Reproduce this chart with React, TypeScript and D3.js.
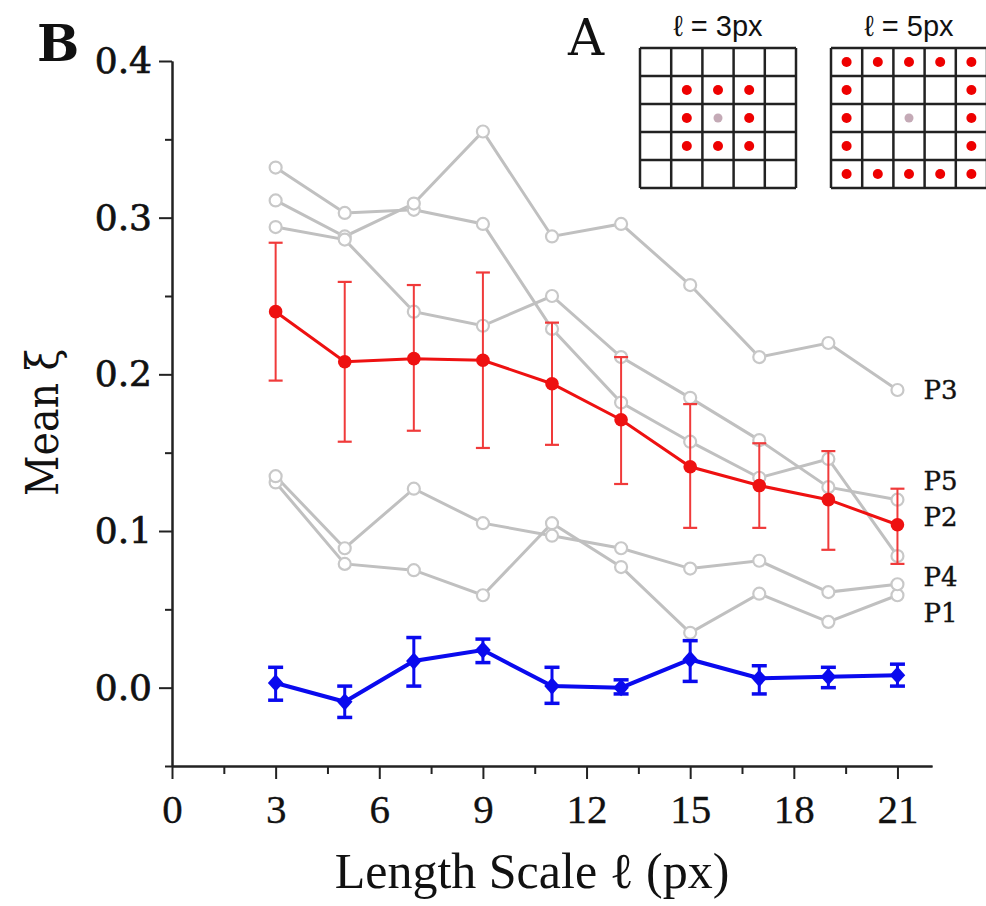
import React, { useRef, useEffect } from 'react'
import * as d3 from 'd3'

// length scale values on the x axis
const lengths = [3, 5, 7, 9, 11, 13, 15, 17, 19, 21]

// individual subjects (grey)
const p1 = [0.131, 0.079, 0.075, 0.059, 0.105, 0.077, 0.035, 0.060, 0.042, 0.059]
const p2 = [0.332, 0.303, 0.305, 0.296, 0.229, 0.182, 0.157, 0.134, 0.146, 0.084]
const p3 = [0.311, 0.288, 0.309, 0.355, 0.288, 0.296, 0.257, 0.211, 0.220, 0.190]
const p4 = [0.135, 0.089, 0.127, 0.105, 0.097, 0.089, 0.076, 0.081, 0.061, 0.066]
const p5 = [0.294, 0.286, 0.240, 0.231, 0.250, 0.211, 0.185, 0.158, 0.128, 0.120]

// mean of subjects (red) with error bars
const redMean = [0.240, 0.208, 0.210, 0.209, 0.194, 0.171, 0.141, 0.129, 0.120, 0.104]
const redHi = [0.284, 0.259, 0.257, 0.265, 0.233, 0.211, 0.181, 0.156, 0.151, 0.127]
const redLo = [0.196, 0.157, 0.164, 0.153, 0.155, 0.130, 0.102, 0.102, 0.088, 0.079]

// control (blue)
const blueMean = [0.003, -0.009, 0.017, 0.024, 0.001, 0.000, 0.018, 0.006, 0.007, 0.008]
const blueHi = [0.013, 0.001, 0.032, 0.031, 0.013, 0.005, 0.030, 0.014, 0.013, 0.015]
const blueLo = [-0.008, -0.019, 0.001, 0.016, -0.010, -0.004, 0.004, -0.004, 0.000, 0.001]

// labels at the right end of the grey lines
const subjectLabels = ['P3', 'P5', 'P2', 'P4', 'P1']
const subjectLabelValues = [0.190, 0.132, 0.109, 0.071, 0.048]

const yTicks = [0, 0.1, 0.2, 0.3, 0.4]
const yMinorTicks = [-0.05, 0.05, 0.15, 0.25, 0.35]
const xTicks = [0, 3, 6, 9, 12, 15, 18, 21]
const xMinorTicks = [1.5, 4.5, 7.5, 10.5, 13.5, 16.5, 19.5]

// inset A: neighbourhood cells [col, row] in a 5x5 grid
const ring3 = [[1, 1], [2, 1], [3, 1], [1, 2], [3, 2], [1, 3], [2, 3], [3, 3]]
const ring5 = [
  [0, 0], [1, 0], [2, 0], [3, 0], [4, 0],
  [0, 1], [4, 1], [0, 2], [4, 2], [0, 3], [4, 3],
  [0, 4], [1, 4], [2, 4], [3, 4], [4, 4],
]
const insetTitles = ['ℓ = 3px', 'ℓ = 5px']

const W = 986
const H = 906

const App = () => {
  const svgRef = useRef<SVGSVGElement>(null)

  useEffect(() => {
    document.body.style.margin = '0'
    const svg = d3.select(svgRef.current)
    svg.selectAll('*').remove()

    const x = d3.scaleLinear().domain([0, 22]).range([172, 932])
    const y = d3.scaleLinear().domain([-0.05, 0.4]).range([766, 61])

    // axes
    const yAxis = svg.append('g').attr('transform', `translate(${x(0)},0)`)
    yAxis.call(d3.axisLeft(y).tickValues(yTicks).tickSize(13).tickSizeOuter(0).tickPadding(7)
      .tickFormat(d3.format('.1f')))
    yAxis.append('g').call(d3.axisLeft(y).tickValues(yMinorTicks).tickSize(7).tickSizeOuter(0)
      .tickFormat(() => ''))
    yAxis.selectAll('path').attr('stroke', '#222').attr('stroke-width', 2)
    yAxis.selectAll('line').attr('stroke', '#222').attr('stroke-width', 2)
    yAxis.selectAll('text')
      .attr('font-family', 'DejaVu Serif')
      .attr('font-size', 36)
      .attr('fill', '#111')
      .attr('stroke', '#111').attr('stroke-width', 0.7)

    const xAxis = svg.append('g').attr('transform', `translate(0,${y(-0.05)})`)
    xAxis.call(d3.axisBottom(x).tickValues(xTicks).tickSize(13).tickSizeOuter(0).tickPadding(15))
    xAxis.append('g').call(d3.axisBottom(x).tickValues(xMinorTicks).tickSize(8).tickSizeOuter(0)
      .tickFormat(() => ''))
    xAxis.selectAll('path').attr('stroke', '#222').attr('stroke-width', 2)
    xAxis.selectAll('line').attr('stroke', '#222').attr('stroke-width', 2)
    xAxis.selectAll('text')
      .attr('font-family', 'Liberation Serif')
      .attr('font-size', 41)
      .attr('fill', '#111')
      .attr('stroke', '#111').attr('stroke-width', 0.3)

    // grey subject lines
    const line = d3.line<number>().x((_, i) => x(lengths[i])).y(d => y(d))
    const subjects = [p1, p2, p3, p4, p5]
    const grey = svg.append('g')
    subjects.forEach(s => {
      grey.append('path').attr('d', line(s)).attr('fill', 'none')
        .attr('stroke', '#c0c0c0').attr('stroke-width', 3)
    })
    subjects.forEach(s => {
      grey.selectAll(null).data(s).join('circle')
        .attr('cx', (_, i) => x(lengths[i])).attr('cy', d => y(d)).attr('r', 6)
        .attr('fill', 'white').attr('stroke', '#c8c8c8').attr('stroke-width', 2.2)
    })

    grey.selectAll('text').data(subjectLabels).join('text')
      .attr('x', x(21) + 26).attr('y', (_, i) => y(subjectLabelValues[i]))
      .attr('dy', '0.36em')
      .attr('font-family', 'DejaVu Serif').attr('font-size', 26).attr('fill', '#111')
      .attr('stroke', '#111').attr('stroke-width', 0.4)
      .text(d => d)

    // red mean with error bars
    const red = svg.append('g')
    red.selectAll('.bar').data(lengths).join('line').attr('class', 'bar')
      .attr('x1', d => x(d)).attr('x2', d => x(d))
      .attr('y1', (_, i) => y(redHi[i])).attr('y2', (_, i) => y(redLo[i]))
      .attr('stroke', '#f03a3a').attr('stroke-width', 2)
    const capsRed = [...redHi, ...redLo]
    red.selectAll('.cap').data(capsRed).join('line').attr('class', 'cap')
      .attr('x1', (_, i) => x(lengths[i % 10]) - 7).attr('x2', (_, i) => x(lengths[i % 10]) + 7)
      .attr('y1', d => y(d)).attr('y2', d => y(d))
      .attr('stroke', '#f03a3a').attr('stroke-width', 2.2)
    red.append('path').attr('d', line(redMean)).attr('fill', 'none')
      .attr('stroke', '#ee1111').attr('stroke-width', 3)
    red.selectAll('circle').data(redMean).join('circle')
      .attr('cx', (_, i) => x(lengths[i])).attr('cy', d => y(d)).attr('r', 6.8)
      .attr('fill', '#ee1111')

    // blue control with error bars
    const blue = svg.append('g')
    blue.selectAll('.bar').data(lengths).join('line').attr('class', 'bar')
      .attr('x1', d => x(d)).attr('x2', d => x(d))
      .attr('y1', (_, i) => y(blueHi[i])).attr('y2', (_, i) => y(blueLo[i]))
      .attr('stroke', '#0a0aee').attr('stroke-width', 3)
    const capsBlue = [...blueHi, ...blueLo]
    blue.selectAll('.cap').data(capsBlue).join('line').attr('class', 'cap')
      .attr('x1', (_, i) => x(lengths[i % 10]) - 7.5).attr('x2', (_, i) => x(lengths[i % 10]) + 7.5)
      .attr('y1', d => y(d)).attr('y2', d => y(d))
      .attr('stroke', '#0a0aee').attr('stroke-width', 3.5)
    blue.append('path').attr('d', line(blueMean)).attr('fill', 'none')
      .attr('stroke', '#0a0aee').attr('stroke-width', 4)
    blue.selectAll('path.dia').data(blueMean).join('path').attr('class', 'dia')
      .attr('transform', (d, i) => `translate(${x(lengths[i])},${y(d)}) scale(0.9,1)`)
      .attr('d', d3.symbol(d3.symbolDiamond2, 190)())
      .attr('fill', '#0a0aee')

    // axis titles and panel letters
    svg.append('text')
      .attr('x', (x(0) + x(22)) / 2 - 20).attr('y', 888)
      .attr('text-anchor', 'middle')
      .attr('font-family', 'Liberation Serif').attr('font-size', 50).attr('fill', '#111')
      .text('Length Scale ℓ (px)')
    svg.append('text')
      .attr('transform', `translate(58,${y(0.2) + 48}) rotate(-90)`)
      .attr('text-anchor', 'middle')
      .attr('font-family', 'DejaVu Serif Condensed, DejaVu Serif')
      .attr('font-stretch', 'condensed')
      .attr('font-size', 44).attr('fill', '#111')
      .text('Mean ξ')
    svg.append('text').attr('x', 37).attr('y', 61)
      .attr('font-family', 'DejaVu Serif').attr('font-weight', 'bold')
      .attr('font-size', 50).attr('fill', '#111').text('B')
    svg.append('text').attr('x', 568).attr('y', 55)
      .attr('font-family', 'DejaVu Serif')
      .attr('font-size', 50).attr('fill', '#111').text('A')

    // inset A grids
    const insets = [{ left: 640, dots: ring3 }, { left: 831, dots: ring5 }]
    const gy = d3.scaleLinear().domain([0, 5]).range([48, 188])
    insets.forEach((inset, k) => {
      const gx = d3.scaleLinear().domain([0, 5]).range([inset.left, inset.left + 156])
      const g = svg.append('g')
      g.append('text').attr('x', gx(2.5)).attr('y', 36).attr('text-anchor', 'middle')
        .attr('font-family', 'Liberation Sans').attr('font-size', 29).attr('fill', '#111')
        .text(insetTitles[k])
      g.selectAll('.v').data(d3.range(6)).join('line').attr('class', 'v')
        .attr('x1', d => gx(d)).attr('x2', d => gx(d)).attr('y1', gy(0)).attr('y2', gy(5))
        .attr('stroke', '#222').attr('stroke-width', 2.5)
      g.selectAll('.h').data(d3.range(6)).join('line').attr('class', 'h')
        .attr('x1', gx(0)).attr('x2', gx(5)).attr('y1', d => gy(d)).attr('y2', d => gy(d))
        .attr('stroke', '#222').attr('stroke-width', 2.5)
      g.selectAll('.dot').data(inset.dots).join('circle').attr('class', 'dot')
        .attr('cx', d => gx(d[0] + 0.5)).attr('cy', d => gy(d[1] + 0.5)).attr('r', 5)
        .attr('fill', '#ee0000')
      g.append('circle').attr('cx', gx(2.5)).attr('cy', gy(2.5)).attr('r', 4.5)
        .attr('fill', '#c4aab6')
    })
  }, [])

  return (
    <svg ref={svgRef} width={W} height={H} style={{ display: 'block', background: 'white' }} />
  )
}

export default App
